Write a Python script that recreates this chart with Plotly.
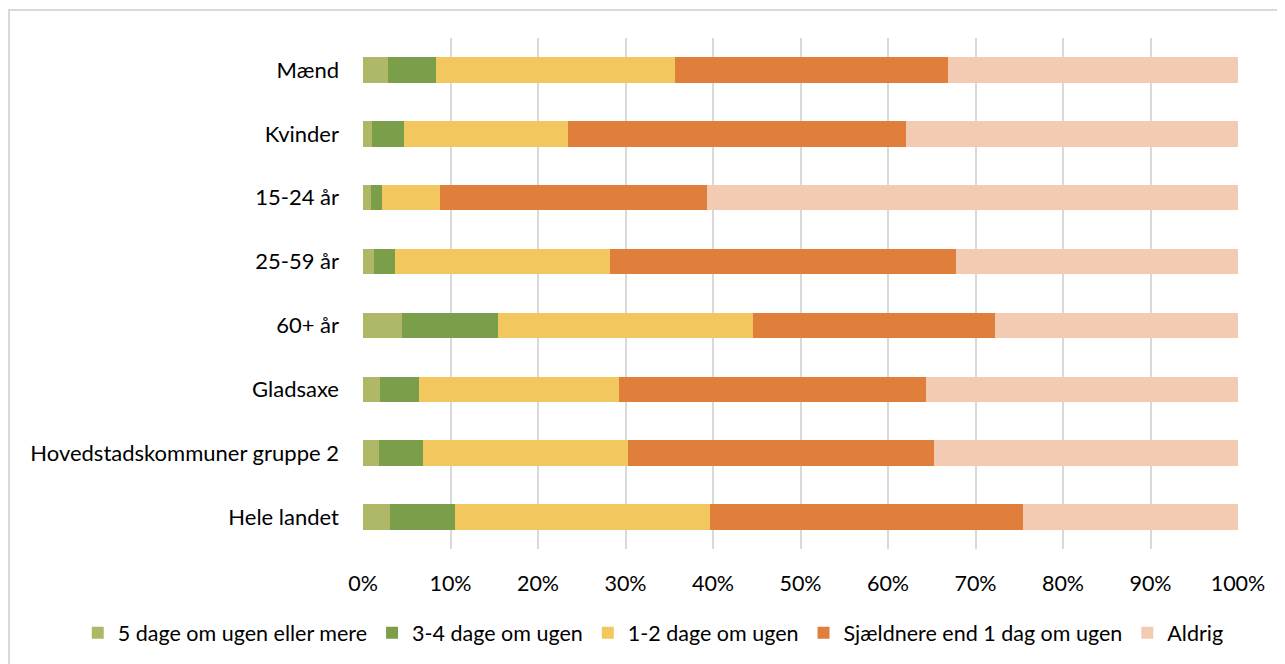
import plotly.graph_objects as go

categories = ["Mænd", "Kvinder", "15-24 år", "25-59 år", "60+ år", "Gladsaxe",
              "Hovedstadskommuner gruppe 2", "Hele landet"]
series_names = ["5 dage om ugen eller mere", "3-4 dage om ugen", "1-2 dage om ugen",
                "Sjældnere end 1 dag om ugen", "Aldrig"]
s5 = [2.9, 1.0, 0.9, 1.2, 4.4, 1.9, 1.8, 3.1]
s34 = [5.4, 3.7, 1.3, 2.5, 11.0, 4.5, 5.0, 7.4]
s12 = [27.4, 18.7, 6.6, 24.5, 29.2, 22.9, 23.5, 29.2]
sj = [31.1, 38.7, 30.5, 39.6, 27.6, 35.0, 34.9, 35.7]
aldrig = [33.2, 37.9, 60.7, 32.2, 27.8, 35.7, 34.8, 24.6]
colors = ["#AEB866", "#7A9E4A", "#F1C75E", "#E07F3C", "#F3CBB2"]
x_ticks = [0, 10, 20, 30, 40, 50, 60, 70, 80, 90, 100]
x_labels = ["0%", "10%", "20%", "30%", "40%", "50%", "60%", "70%", "80%", "90%", "100%"]

FONT = "Lato"
fig = go.Figure()
for name, vals, col in zip(series_names, [s5, s34, s12, sj, aldrig], colors):
    fig.add_trace(go.Bar(
        y=categories, x=vals, name=name, orientation="h",
        marker=dict(color=col, line=dict(width=0)),
        width=0.4,
    ))

fig.update_layout(
    width=1285, height=664,
    barmode="stack",
    paper_bgcolor="white", plot_bgcolor="white",
    margin=dict(l=355, r=55, t=30, b=123, autoexpand=False),
    font=dict(family=FONT, size=22, color="#000000"),
    xaxis=dict(range=[0, 100], tickvals=x_ticks, ticktext=x_labels,
               showgrid=True, gridcolor="#D9D9D9", gridwidth=1.5,
               zeroline=False, showline=False, ticks="", ticklabelstandoff=19,
               tickfont=dict(family=FONT, size=21.5)),
    yaxis=dict(autorange="reversed", showgrid=False, zeroline=False, showline=False,
               ticks="", ticklabelstandoff=23, tickfont=dict(family=FONT, size=22)),
    legend=dict(orientation="h", x=-0.326, xanchor="left", y=-0.164, yanchor="middle",
                font=dict(family=FONT, size=21.5), traceorder="normal",
                itemwidth=30, bgcolor="rgba(0,0,0,0)"),
    shapes=[dict(type="rect", xref="paper", yref="paper",
                 x0=-0.4046, x1=1.07, y0=-0.25, y1=1.0548,
                 line=dict(color="#D9D9D9", width=2), fillcolor="rgba(0,0,0,0)",
                 layer="below")],
)

fig.write_html("out.html")
